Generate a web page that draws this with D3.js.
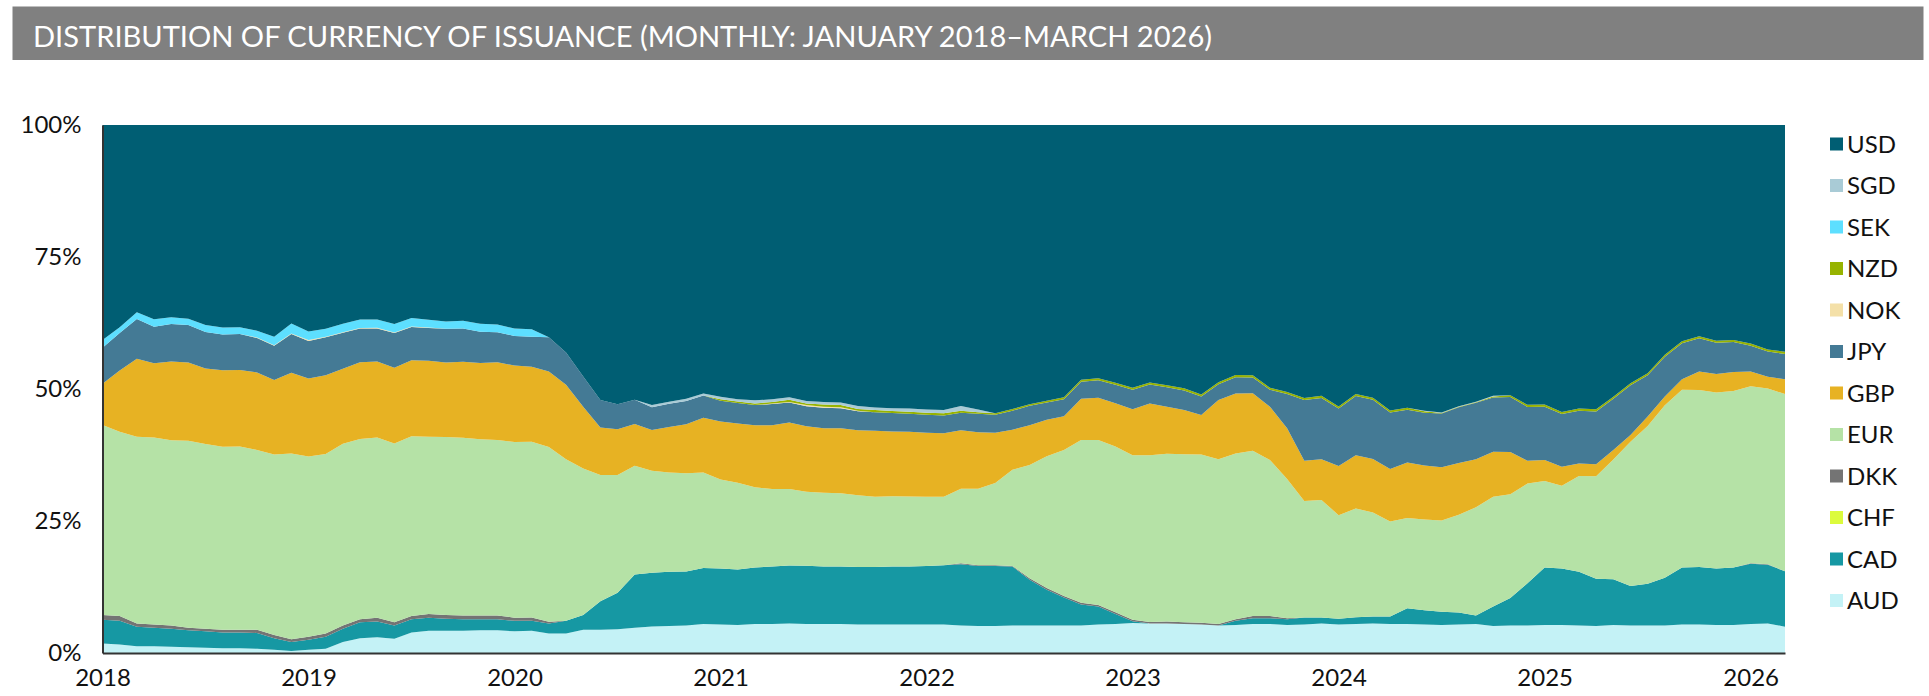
<!DOCTYPE html>
<html>
<head>
<meta charset="utf-8">
<script src="https://cdn.jsdelivr.net/npm/d3@7"></script>
<style>
    body { margin: 0; background: #ffffff; }
    text { font-family: Lato, "Open Sans", sans-serif; }
</style>
</head>
<body>
<svg width="1929" height="696"></svg>
<script>

// monthly, Jan 2018 .. Mar 2026 (99 months)
var startYear = 2018;
var monthCount = 99;
var yearTicks = [2018, 2019, 2020, 2021, 2022, 2023, 2024, 2025, 2026];
var pctTicks = [0, 0.25, 0.5, 0.75, 1];

var currencies = ["AUD", "CAD", "CHF", "DKK", "EUR", "GBP", "JPY", "NOK", "NZD", "SEK", "SGD", "USD"];
var colors = ["#c4f2f6", "#1698a3", "#dcfb3c", "#747474", "#b5e2a6", "#e7b223", "#447a95", "#f4e0a8", "#97b300", "#5ddfff", "#a9cbd6", "#005e73"];

// share of issuance, percent
var AUD = [1.8,1.6,1.3,1.3,1.2,1.1,1.0,0.9,0.9,0.8,0.6,0.4,0.6,0.8,2.1,2.8,3.0,2.7,3.9,4.2,4.2,4.2,4.3,4.3,4.1,
           4.2,3.7,3.7,4.4,4.4,4.5,4.8,5.0,5.1,5.2,5.5,5.4,5.3,5.5,5.5,5.6,5.5,5.5,5.5,5.4,5.4,5.4,5.4,5.4,5.4,
           5.2,5.1,5.1,5.2,5.2,5.2,5.2,5.2,5.4,5.5,5.7,5.6,5.6,5.5,5.4,5.2,5.3,5.5,5.5,5.3,5.4,5.6,5.4,5.5,5.6,
           5.5,5.5,5.4,5.3,5.4,5.5,5.1,5.2,5.2,5.3,5.3,5.2,5.1,5.3,5.2,5.2,5.2,5.4,5.4,5.3,5.3,5.5,5.6,5.0];
var CAD = [4.5,4.5,3.7,3.5,3.4,3.2,3.1,3.0,3.0,3.0,2.2,1.7,1.9,2.3,2.5,3.0,3.0,2.5,2.5,2.5,2.3,2.2,2.1,2.1,2.0,
           1.9,1.9,2.4,2.8,5.4,6.9,10.1,10.2,10.3,10.2,10.6,10.6,10.5,10.7,10.9,11.0,11.0,10.9,10.9,10.9,10.9,11.0,11.0,11.1,11.2,
           11.6,11.4,11.4,11.2,8.7,6.8,5.3,4.0,3.4,1.9,0.3,0,0,0,0,0,0.8,1.1,1.1,1.1,1.3,1.1,1.1,1.3,1.3,
           1.4,3.0,2.7,2.5,2.3,1.6,3.7,5.2,8.0,10.9,10.7,10.2,9.0,8.7,7.5,7.9,9.1,10.8,10.9,10.7,10.9,11.4,11.1,10.5];
var CHF = [0,0,0,0,0,0,0,0,0,0,0,0,0,0,0,0,0,0,0,0,0,0,0,0,0,
           0,0,0,0,0,0,0,0,0,0,0,0,0,0,0,0,0,0,0,0,0,0,0,0,0,
           0,0,0,0,0,0,0,0,0,0,0,0,0,0,0,0,0,0,0,0,0,0,0,0,0,
           0,0,0,0,0,0,0,0,0,0,0,0,0,0,0,0,0,0,0,0,0,0,0,0];
var DKK = [0.9,0.9,0.6,0.6,0.6,0.5,0.5,0.5,0.5,0.6,0.6,0.5,0.6,0.6,0.6,0.6,0.7,0.6,0.6,0.7,0.7,0.7,0.7,0.7,0.6,
           0.6,0.3,0,0,0,0,0,0,0,0,0,0,0,0,0,0,0,0,0,0,0,0,0,0,0,
           0.2,0.1,0.1,0.1,0.3,0.3,0.3,0.3,0.3,0.3,0.3,0.3,0.35,0.35,0.35,0.3,0.3,0.4,0.4,0.2,0,0,0,0,0,
           0,0,0,0,0,0,0,0,0,0,0,0,0,0,0,0,0,0,0,0,0,0.1,0.1,0];
var EUR = [36.0,34.9,35.4,35.4,35.1,35.4,35.0,34.7,34.7,34.1,34.2,35.2,34.1,34.0,34.4,34.1,34.2,33.8,34.1,33.6,33.7,33.7,33.4,33.3,33.3,
           33.3,33.1,30.6,27.8,23.9,22.3,20.6,19.3,18.8,18.6,18.1,16.9,16.4,15.2,14.7,14.5,14.0,14.0,13.9,13.6,13.3,13.3,13.3,13.1,13.0,
           14.1,14.5,15.6,18.2,21.5,25.0,27.7,30.8,31.3,31.4,31.2,31.6,31.8,31.8,31.9,31.2,31.4,31.3,29.6,26.4,22.1,22.3,19.6,20.6,19.7,
           18.0,17.1,17.2,17.3,18.5,20.5,20.8,19.6,18.9,16.4,15.7,18.1,19.4,22.7,27.3,29.9,32.7,33.7,33.5,33.3,33.4,33.5,33.3,33.6];
var GBP = [7.8,11.6,14.8,14.1,14.9,14.8,14.3,14.5,14.5,14.7,14.1,15.3,14.8,14.9,14.2,14.5,14.4,14.3,14.4,14.4,14.1,14.4,14.5,14.7,14.5,
           14.2,14.3,14.1,11.7,9.0,8.7,7.9,7.7,8.6,9.3,10.4,11.0,11.2,11.8,12.1,12.6,12.4,12.2,12.3,12.3,12.5,12.3,12.3,12.1,12.0,
           11.1,10.7,9.5,7.6,7.5,6.9,6.4,7.8,8.0,8.2,8.7,9.8,8.9,8.4,7.5,11.2,11.4,10.9,10.1,9.6,7.6,7.7,9.3,10.1,10.1,
           9.9,10.5,10.2,10.1,9.8,9.1,8.5,8.0,4.3,4.0,3.6,2.4,2.3,1.8,1.3,1.8,1.7,2.0,3.5,3.5,3.6,2.8,2.2,2.8];
var JPY = [6.8,7.1,7.5,6.9,7.1,7.1,6.9,6.8,6.8,6.5,6.5,7.3,7.1,7.2,6.8,6.4,6.3,6.6,6.3,6.2,6.4,6.3,5.9,5.7,5.6,
           5.7,6.5,6.1,5.7,5.2,4.7,4.6,4.3,4.4,4.4,4.2,3.9,3.9,3.8,4.0,3.8,3.8,3.9,3.8,3.6,3.5,3.5,3.4,3.4,3.4,
           3.3,3.5,3.4,3.6,3.7,3.3,3.2,3.2,3.3,3.5,3.7,3.6,3.7,3.7,3.5,3.0,3.1,3.0,3.2,6.5,11.5,11.6,10.9,11.2,11.2,
           10.7,10.0,10.0,10.2,10.6,10.7,10.3,10.4,10.2,10.1,10.0,10.0,10.0,9.7,9.4,7.8,7.5,6.8,6.3,5.9,5.7,4.9,4.8,4.8];
var NOK = [0,0,0,0,0,0,0,0,0,0.1,0.1,0.1,0.2,0.1,0.1,0.1,0.1,0.1,0.1,0.1,0,0,0,0,0,
           0,0,0,0,0,0,0,0,0,0,0,0,0,0,0.1,0.1,0.2,0.2,0.2,0.1,0,0,0,0,0,
           0,0,0,0,0,0,0,0,0,0,0,0,0,0,0,0,0,0,0,0,0,0,0,0,0,
           0,0,0,0,0,0,0,0,0,0,0,0,0,0,0,0,0,0,0,0,0,0,0,0];
var NZD = [0,0,0,0,0,0,0,0,0,0,0,0,0,0,0,0,0,0,0,0,0,0,0,0,0,
           0,0,0,0,0,0,0,0,0,0,0,0.3,0.3,0.3,0.3,0.4,0.3,0.4,0.4,0.3,0.4,0.4,0.4,0.4,0.4,
           0.4,0.3,0.3,0.3,0.3,0.3,0.4,0.4,0.4,0.4,0.4,0.4,0.4,0.4,0.4,0.4,0.4,0.4,0.4,0.4,0.4,0.4,0.4,0.4,0.4,
           0.4,0.4,0.3,0.1,0.1,0.1,0.2,0.3,0.4,0.4,0.4,0.4,0.4,0.4,0.4,0.4,0.4,0.4,0.4,0.4,0.4,0.4,0.4,0.4];
var SEK = [1.5,1.1,1.3,1.4,1.3,1.2,1.3,1.3,1.3,1.3,1.6,1.9,1.6,1.5,1.6,1.6,1.6,1.6,1.6,1.5,1.4,1.5,1.5,1.5,1.4,
           1.4,0,0,0,0,0,0,0,0,0,0,0,0,0,0,0,0,0,0,0,0,0,0,0,0,
           0,0,0,0,0,0,0,0,0,0,0,0,0,0,0,0,0,0,0,0,0,0,0,0,0,
           0,0,0,0,0,0,0,0,0,0,0,0,0,0,0,0,0,0,0,0,0,0,0,0];
var SGD = [0,0,0,0,0,0,0,0,0,0,0,0,0,0,0,0,0,0,0,0,0,0,0,0,0,
           0,0,0,0,0,0,0,0.4,0.4,0.4,0.4,0.5,0.4,0.6,0.5,0.5,0.5,0.5,0.5,0.6,0.5,0.5,0.6,0.6,0.6,
           0.9,0.5,0,0,0,0,0,0,0,0,0,0,0,0,0,0,0,0,0,0,0,0,0,0,0,
           0,0,0.1,0.1,0.1,0.1,0.1,0,0,0,0,0,0,0,0,0,0,0,0,0,0,0,0,0];
var USD = [40.7,38.3,35.5,36.8,36.4,36.7,37.9,38.4,38.3,39.0,40.1,37.6,39.1,38.6,37.6,36.8,36.9,37.6,36.6,36.9,37.2,37.1,37.7,37.8,38.6,
           38.7,40.2,43.1,47.7,52.1,52.9,52.1,53.0,52.4,51.8,50.9,51.5,51.9,52.2,52.0,51.6,52.2,52.5,52.6,53.2,53.5,53.7,53.8,53.9,54.0,
           53.2,53.9,54.6,53.8,53.0,52.3,51.6,48.2,48.0,48.8,49.8,48.8,49.3,49.9,51.1,48.7,47.4,47.4,49.8,50.6,51.7,51.3,53.3,51.0,51.6,
           54.0,53.6,54.1,54.5,53.3,52.4,51.3,51.1,53.0,53.0,54.4,53.7,53.9,51.5,48.9,47.0,43.6,41.0,40.0,40.8,40.7,41.4,42.5,43.0];

var seriesByName = { AUD: AUD, CAD: CAD, CHF: CHF, DKK: DKK, EUR: EUR, GBP: GBP, JPY: JPY, NOK: NOK, NZD: NZD, SEK: SEK, SGD: SGD, USD: USD };

function buildRows() {
    var rows = [];
    for (var i = 0; i < monthCount; i++) {
        var row = { t: startYear + i / 12 };
        currencies.forEach(function(c) {
            row[c] = seriesByName[c][i];
        });
        rows.push(row);
    }
    return rows;
}

function drawChart(rows) {

    let left = 102.5;
    let right = 1785;
    let top = 125;
    let bottom = 653;

    var svg = d3.select("svg");

    // title bar
    svg.append("rect")
        .attr("x", 12.5)
        .attr("y", 6.5)
        .attr("width", 1911)
        .attr("height", 53.5)
        .attr("fill", "#808080");
    svg.append("text")
        .attr("x", 33)
        .attr("y", 46.5)
        .attr("fill", "#ffffff")
        .attr("font-size", 28)
        .attr("textLength", 1179)
        .attr("lengthAdjust", "spacingAndGlyphs")
        .text("DISTRIBUTION OF CURRENCY OF ISSUANCE (MONTHLY: JANUARY 2018\u2013MARCH 2026)");

    var xScale = d3.scaleLinear([startYear, startYear + (monthCount - 1) / 12], [left, right]);
    var yScale = d3.scaleLinear([0, 1], [bottom, top]);
    var colorScale = d3.scaleOrdinal(currencies, colors);

    var stack = d3.stack()
        .keys(currencies)
        .offset(d3.stackOffsetExpand);
    var layers = stack(rows);

    var area = d3.area()
        .x(function(d) { return xScale(d.data.t); })
        .y0(function(d) { return yScale(d[0]); })
        .y1(function(d) { return yScale(d[1]); });

    svg.append("g")
        .selectAll("path")
        .data(layers)
        .enter()
            .append("path")
            .attr("d", area)
            .attr("fill", function(d) { return colorScale(d.key); });

    var yAxis = d3.axisLeft(yScale)
        .tickValues(pctTicks)
        .tickFormat(d3.format(".0%"))
        .tickSize(0)
        .tickPadding(21);
    var gy = svg.append("g")
        .attr("transform", "translate(" + left + ",0)")
        .call(yAxis);
    gy.select(".domain").attr("stroke", "#333333").attr("stroke-width", 2);
    gy.selectAll("text")
        .attr("font-family", "Lato, sans-serif")
        .attr("font-size", 24)
        .attr("fill", "#111111");

    var xAxis = d3.axisBottom(xScale)
        .tickValues(yearTicks)
        .tickFormat(d3.format("d"))
        .tickSize(0)
        .tickPadding(16);
    var gx = svg.append("g")
        .attr("transform", "translate(0," + bottom + ")")
        .call(xAxis);
    gx.select(".domain").attr("stroke", "#333333").attr("stroke-width", 2);
    gx.selectAll("text")
        .attr("font-family", "Lato, sans-serif")
        .attr("font-size", 24)
        .attr("fill", "#111111");

    // legend, USD on top
    var legendItems = currencies.slice().reverse();
    var legend = svg.append("g")
        .selectAll("g")
        .data(legendItems)
        .enter()
            .append("g")
            .attr("transform", function(d, i) {
                return "translate(1830," + (144 + i * 41.5) + ")";
            });
    legend.append("rect")
        .attr("x", 0)
        .attr("y", -6.5)
        .attr("width", 13)
        .attr("height", 13)
        .attr("fill", function(d) { return colorScale(d); });
    legend.append("text")
        .attr("x", 17)
        .attr("y", 8.5)
        .attr("font-size", 24)
        .attr("fill", "#111111")
        .text(function(d) { return d; });
}

drawChart(buildRows());

</script>
</body>
</html>
